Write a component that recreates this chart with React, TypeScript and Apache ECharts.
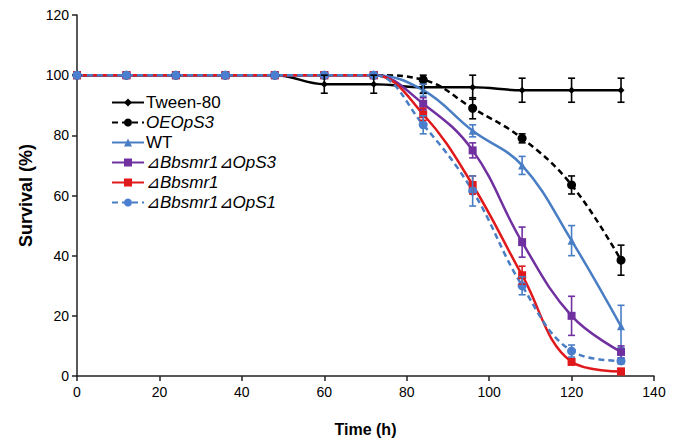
import React, { useEffect, useRef } from "react";
import * as echarts from "echarts";

const times = [0, 12, 24, 36, 48, 60, 72, 84, 96, 108, 120, 132];
const seriesNames = ["Tween-80", "OEOpS3", "WT", "⊿Bbsmr1⊿OpS3", "⊿Bbsmr1", "⊿Bbsmr1⊿OpS1"];
const tween = [100, 100, 100, 100, 100, 97, 97, 96, 96, 95, 95, 95];
const tweenErr = [0, 0, 0, 0, 0, 3, 3, 2, 4, 4, 4, 4];
const oeops3 = [100, 100, 100, 100, 100, 100, 100, 98.5, 89, 79, 63.5, 38.5];
const oeops3Err = [0, 0, 0, 0, 0, 0, 0, 1.5, 3.5, 1.5, 3, 5];
const wt = [100, 100, 100, 100, 100, 100, 100, 95, 81.5, 70, 45, 16.5];
const wtErr = [0, 0, 0, 0, 0, 0, 0, 2, 2, 3, 5, 7];
const dOpS3 = [100, 100, 100, 100, 100, 100, 100, 90.5, 75, 44.5, 20, 8];
const dOpS3Err = [0, 0, 0, 0, 0, 0, 0, 2, 2.5, 5, 6.5, 2];
const dBbsmr1 = [100, 100, 100, 100, 100, 100, 100, 87, 63.5, 33.5, 4.7, 1.5];
const dBbsmr1Err = [0, 0, 0, 0, 0, 0, 0, 2, 3, 3, 1, 1];
const dOpS1 = [100, 100, 100, 100, 100, 100, 100, 83.5, 61.5, 30, 8.3, 5];
const dOpS1Err = [0, 0, 0, 0, 0, 0, 0, 3, 5, 3, 2, 1];
const xTicks = [0, 20, 40, 60, 80, 100, 120, 140];
const yTicks = [0, 20, 40, 60, 80, 100, 120];

const FONT = "Liberation Sans, Arial, sans-serif";

export default function App() {
  const ref = useRef<HTMLDivElement>(null);
  useEffect(() => {
    if (!ref.current) return;
    const chart = echarts.init(ref.current, undefined, { renderer: "svg" });

    const defs = [
      { name: seriesNames[0], vals: tween, err: tweenErr, color: "#000000", dash: "solid", symbol: "diamond", size: 7, markerColor: "#000000" },
      { name: seriesNames[1], vals: oeops3, err: oeops3Err, color: "#000000", dash: [6, 4], symbol: "circle", size: 9, markerColor: "#000000" },
      { name: seriesNames[2], vals: wt, err: wtErr, color: "#4a7ec4", dash: "solid", symbol: "triangle", size: 8, markerColor: "#4a7ec4" },
      { name: seriesNames[3], vals: dOpS3, err: dOpS3Err, color: "#7030a0", dash: "solid", symbol: "rect", size: 8, markerColor: "#7030a0" },
      { name: seriesNames[4], vals: dBbsmr1, err: dBbsmr1Err, color: "#e0191c", dash: "solid", symbol: "rect", size: 8, markerColor: "#e0191c" },
      { name: seriesNames[5], vals: dOpS1, err: dOpS1Err, color: "#4a7ec4", dash: [6, 4], symbol: "circle", size: 9, markerColor: "#4a7ed0" },
    ];

    const lineSeries: any[] = defs.map((d) => ({
      name: d.name,
      type: "line",
      smooth: 0.4,
      data: times.map((t, i) => [t, d.vals[i]]),
      symbol: d.symbol,
      symbolSize: d.size,
      showSymbol: true,
      lineStyle: { color: d.color, width: 2.5, type: d.dash },
      itemStyle: { color: d.markerColor, borderWidth: 0 },
      z: 3,
    }));

    const errSeries: any[] = defs.map((d) => ({
      name: d.name + "-err",
      type: "custom",
      z: 4,
      encode: { x: 0, y: [1, 2] },
      data: times
        .map((t, i) => [t, d.vals[i] - d.err[i], d.vals[i] + d.err[i], d.err[i]])
        .filter((r) => r[3] > 0),
      renderItem: (params: any, api: any) => {
        const x = api.value(0);
        const lo = api.value(1);
        const hi = api.value(2);
        const p1 = api.coord([x, hi]);
        const p2 = api.coord([x, lo]);
        const w = 3.5;
        const st = { stroke: d.color, lineWidth: 1.6 };
        return {
          type: "group",
          children: [
            { type: "line", shape: { x1: p1[0], y1: p1[1], x2: p2[0], y2: p2[1] }, style: st },
            { type: "line", shape: { x1: p1[0] - w, y1: p1[1], x2: p1[0] + w, y2: p1[1] }, style: st },
            { type: "line", shape: { x1: p2[0] - w, y1: p2[1], x2: p2[0] + w, y2: p2[1] }, style: st },
          ],
        };
      },
    }));

    const legendLabel: Record<string, string> = {
      "Tween-80": "{n|Tween-80}",
      OEOpS3: "{i|OEOpS3}",
      WT: "{n|WT}",
      "⊿Bbsmr1⊿OpS3": "{n|⊿}{i|Bbsmr1}{n|⊿}{i|OpS3}",
      "⊿Bbsmr1": "{n|⊿}{i|Bbsmr1}",
      "⊿Bbsmr1⊿OpS1": "{n|⊿}{i|Bbsmr1}{n|⊿}{i|OpS1}",
    };

    chart.setOption({
      animation: false,
      backgroundColor: "#ffffff",
      grid: { left: 77, right: 24, top: 15, bottom: 68 },
      legend: {
        data: seriesNames,
        orient: "vertical",
        left: 111,
        top: 94,
        itemWidth: 32,
        itemHeight: 10,
        itemGap: 3,
        padding: 0,
        formatter: (name: string) => legendLabel[name] || name,
        textStyle: {
          color: "#000",
          fontFamily: FONT,
          fontSize: 17,
          padding: [0, 0, 0, -3],
          rich: {
            n: { fontFamily: FONT, fontSize: 17, color: "#000", fontStyle: "normal" },
            i: { fontFamily: FONT, fontSize: 17, color: "#000", fontStyle: "italic" },
          },
        },
      },
      xAxis: {
        type: "value",
        min: 0,
        max: 140,
        interval: 20,
        name: "Time (h)",
        nameLocation: "middle",
        nameGap: 45,
        nameTextStyle: { fontFamily: FONT, fontSize: 16, fontWeight: "bold", color: "#000" },
        axisLine: { onZero: false, lineStyle: { color: "#222", width: 1.5 } },
        axisTick: { show: true, length: 5, inside: false, lineStyle: { color: "#222", width: 1.5 } },
        axisLabel: {
          fontFamily: FONT,
          fontSize: 14,
          color: "#000",
          margin: 9,
          formatter: (v: number) => (xTicks.includes(v) ? String(v) : ""),
        },
        splitLine: { show: false },
      },
      yAxis: {
        type: "value",
        min: 0,
        max: 120,
        interval: 20,
        name: "Survival (%)",
        nameLocation: "middle",
        nameGap: 38,
        nameTextStyle: { fontFamily: FONT, fontSize: 18, fontWeight: "bold", color: "#000" },
        axisLine: { show: true, lineStyle: { color: "#222", width: 1.5 } },
        axisTick: { show: true, length: 5, inside: false, lineStyle: { color: "#222", width: 1.5 } },
        axisLabel: {
          fontFamily: FONT,
          fontSize: 14,
          color: "#000",
          margin: 8,
          formatter: (v: number) => (yTicks.includes(v) ? String(v) : ""),
        },
        splitLine: { show: false },
      },
      series: [...lineSeries, ...errSeries],
    });

    return () => chart.dispose();
  }, []);

  return <div ref={ref} style={{ width: 678, height: 444, position: "absolute", left: 0, top: 0 }} />;
}
